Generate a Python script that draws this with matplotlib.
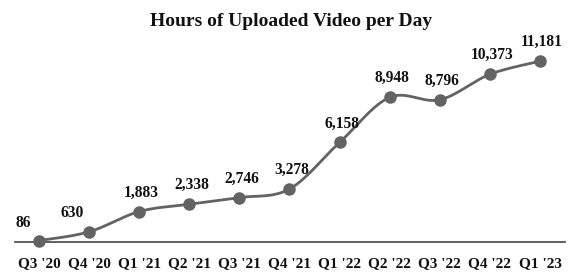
import matplotlib
matplotlib.use("Agg")
import matplotlib.pyplot as plt
import numpy as np

quarters = ["Q3 '20", "Q4 '20", "Q1 '21", "Q2 '21", "Q3 '21", "Q4 '21",
            "Q1 '22", "Q2 '22", "Q3 '22", "Q4 '22", "Q1 '23"]
hours = [86, 630, 1883, 2338, 2746, 3278, 6158, 8948, 8796, 10373, 11181]
labels = ["86", "630", "1,883", "2,338", "2,746", "3,278", "6,158",
          "8,948", "8,796", "10,373", "11,181"]

W, H = 579, 278
fig = plt.figure(figsize=(W / 100, H / 100), dpi=100)
left, right, bottom, top = 15, 565, 242, 48
ax = fig.add_axes([left / W, (H - bottom) / H, (right - left) / W, (bottom - top) / H])
ax.set_xlim(-0.48, 10.5)
ax.set_ylim(0, 12000)

font = ["Liberation Serif", "DejaVu Serif"]
color = "#636363"

# smooth curve (Excel-style Bezier) computed in pixel-like scale
x = np.arange(len(hours), dtype=float)
y = np.array(hours, dtype=float)
sx = (right - left) / (10.5 + 0.48)
sy = (bottom - top) / 12000
P = np.column_stack([x * sx, y * sy])
n = len(P)
curve = []
for i in range(n - 1):
    p0 = P[i - 1] if i > 0 else P[i]
    p1 = P[i]
    p2 = P[i + 1]
    p3 = P[i + 2] if i + 2 < n else P[i + 1]
    c1 = p1 + (p2 - p0) / 6
    c2 = p2 - (p3 - p1) / 6
    t = np.linspace(0, 1, 30)[:, None]
    seg = ((1 - t) ** 3) * p1 + 3 * ((1 - t) ** 2) * t * c1 + 3 * (1 - t) * t ** 2 * c2 + t ** 3 * p2
    curve.append(seg if i == 0 else seg[1:])
curve = np.vstack(curve)
ax.plot(curve[:, 0] / sx, curve[:, 1] / sy, color=color, lw=2, solid_capstyle="round", zorder=2)
ax.plot(x, y, "o", color=color, ms=8, zorder=3, clip_on=False)

offsets = [(-16, 18), (-17, 19)] + [(2, 19)] * 9
for xi, yi, lab, (dx, dy) in zip(x, y, labels, offsets):
    ax.annotate(lab, (xi, yi), xytext=(dx, dy), textcoords="offset pixels",
                ha="center", va="center", fontsize=11.2, fontweight="bold",
                family=font, color="#111111")

for s in ["top", "right", "left"]:
    ax.spines[s].set_visible(False)
ax.spines["bottom"].set_color("#444444")
ax.spines["bottom"].set_linewidth(1.2)
ax.set_yticks([])
ax.set_xticks(x)
ax.set_xticklabels(quarters, fontsize=11, fontweight="bold", family=font, color="#111111")
ax.tick_params(axis="x", length=0, pad=11)

fig.text(291 / W, 1 - 21 / H, "Hours of Uploaded Video per Day", ha="center", va="center",
         fontsize=14, fontweight="bold", family=font, color="#111111")

fig.savefig("out.png", dpi=100)
